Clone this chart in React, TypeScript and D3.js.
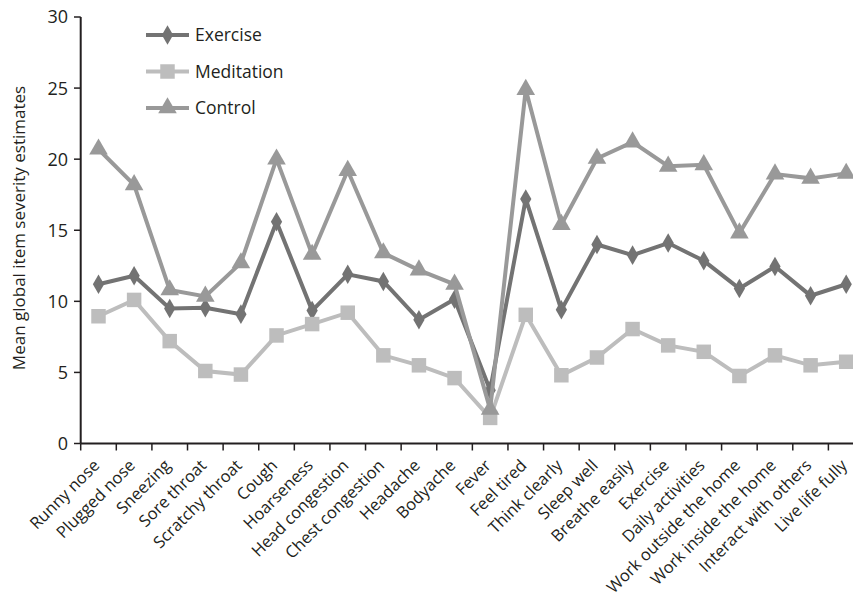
import React from "react";
import * as d3 from "d3";

const categories = [
  "Runny nose", "Plugged nose", "Sneezing", "Sore throat", "Scratchy throat", "Cough",
  "Hoarseness", "Head congestion", "Chest congestion", "Headache", "Bodyache", "Fever",
  "Feel tired", "Think clearly", "Sleep well", "Breathe easily", "Exercise",
  "Daily activities", "Work outside the home", "Work inside the home",
  "Interact with others", "Live life fully",
];

const exerciseValues = [11.2, 11.8, 9.5, 9.55, 9.1, 15.6, 9.35, 11.9, 11.4, 8.7, 10.15, 3.75,
  17.2, 9.4, 14.0, 13.25, 14.1, 12.85, 10.9, 12.45, 10.4, 11.2];
const meditationValues = [8.95, 10.1, 7.2, 5.1, 4.85, 7.6, 8.4, 9.2, 6.2, 5.5, 4.6, 1.8,
  9.05, 4.8, 6.05, 8.05, 6.9, 6.45, 4.75, 6.2, 5.5, 5.75];
const controlValues = [20.7, 18.2, 10.8, 10.35, 12.7, 20.0, 13.3, 19.2, 13.4, 12.2, 11.2, 2.4,
  24.9, 15.4, 20.05, 21.2, 19.5, 19.6, 14.8, 18.95, 18.65, 19.0];

const yTicks = [0, 5, 10, 15, 20, 25, 30];

const series = [
  { name: "Exercise", values: exerciseValues, color: "#737373", symbol: d3.symbolDiamond, size: 110 },
  { name: "Meditation", values: meditationValues, color: "#bdbdbd", symbol: d3.symbolSquare, size: 210 },
  { name: "Control", values: controlValues, color: "#999999", symbol: d3.symbolTriangle, size: 150 },
];

const W = 853;
const H = 600;
const font = "'Open Sans', sans-serif";
const textColor = "#231f20";

export default function App() {
  const x = d3.scaleBand<string>().domain(categories).range([80.7, 864]).padding(0);
  const y = d3.scaleLinear().domain([0, 30]).range([443.5, 17]);
  const cx = (c: string) => (x(c) as number) + x.bandwidth() / 2;

  const line = d3
    .line<number>()
    .x((_, i) => cx(categories[i]))
    .y((v) => y(v));

  return (
    <svg width={W} height={H} style={{ position: "absolute", left: 0, top: 0, background: "#fff" }}>
      <rect width={W} height={H} fill="#fff" />
      {/* axes */}
      <line x1={80.7} x2={80.7} y1={y(30)} y2={y(0)} stroke={textColor} strokeWidth={2} />
      <line x1={80.7} x2={W} y1={y(0)} y2={y(0)} stroke={textColor} strokeWidth={2} />
      {yTicks.map((t) => (
        <g key={t}>
          <line x1={74} x2={80.7} y1={y(t)} y2={y(t)} stroke={textColor} strokeWidth={1.5} />
          <text x={68} y={y(t)} dy="0.36em" textAnchor="end" fontFamily={font} fontSize={18} fill={textColor}>
            {t}
          </text>
        </g>
      ))}
      {categories.map((c, i) => (
        <line key={c} x1={80.7 + i * x.bandwidth()} x2={80.7 + i * x.bandwidth()} y1={y(0)} y2={y(0) + 7}
          stroke={textColor} strokeWidth={1.5} />
      ))}
      {categories.map((c) => (
        <text key={c} transform={`translate(${cx(c) + 2},${y(0) + 23}) rotate(-45)`} textAnchor="end"
          fontFamily={font} fontSize={16.5} fill={textColor}>
          {c}
        </text>
      ))}
      <text transform={`translate(24.5,228) rotate(-90)`} textAnchor="middle" fontFamily={font}
        fontSize={17} fill={textColor}>
        Mean global item severity estimates
      </text>
      {/* series */}
      {series.map((s) => (
        <g key={s.name}>
          <path d={line(s.values) || ""} fill="none" stroke={s.color} strokeWidth={4} strokeLinejoin="miter" />
          {s.values.map((v, i) => (
            <path key={i} d={d3.symbol().type(s.symbol).size(s.size)() || ""}
              transform={`translate(${cx(categories[i])},${y(v)})`} fill={s.color} />
          ))}
        </g>
      ))}
      {/* legend */}
      {series.map((s, i) => {
        const ly = 35 + i * 36.5;
        return (
          <g key={s.name}>
            <line x1={146} x2={189} y1={ly} y2={ly} stroke={s.color} strokeWidth={4} />
            <path d={d3.symbol().type(s.symbol).size(s.size)() || ""} transform={`translate(167.5,${ly})`} fill={s.color} />
            <text x={195} y={ly} dy="0.36em" fontFamily={font} fontSize={17.5} fill={textColor}>
              {s.name}
            </text>
          </g>
        );
      })}
    </svg>
  );
}
